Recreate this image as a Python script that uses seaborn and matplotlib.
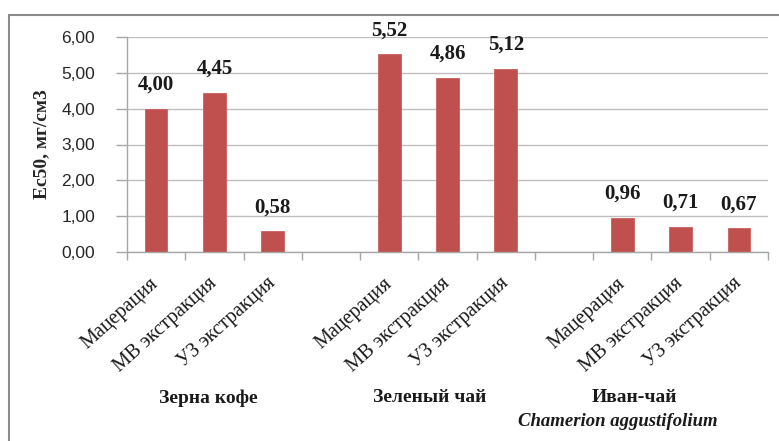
import matplotlib
matplotlib.use("Agg")
import matplotlib.pyplot as plt
import matplotlib.transforms as mtransforms
from matplotlib.patches import Rectangle
from matplotlib.ticker import FixedLocator, MultipleLocator
import seaborn as sns
import pandas as pd

# Source data: EC50 by raw material and extraction method
groups = ["Зерна кофе", "Зеленый чай", "Иван-чай"]
methods = ["Мацерация", "МВ экстракция", "УЗ экстракция"]
coffee = [4.00, 4.45, 0.58]
green_tea = [5.52, 4.86, 5.12]
ivan_tea = [0.96, 0.71, 0.67]
y_ticks = [0, 1, 2, 3, 4, 5, 6]
y_label = "Ec50, мг/см3"
latin_name = "Chamerion aggustifolium"

series = [coffee, green_tea, ivan_tea]

# Category order: three bars per group with an empty slot between groups
order = []
rows = []
for gi, (g, vals) in enumerate(zip(groups, series)):
    for m, v in zip(methods, vals):
        key = f"{g} | {m}"
        order.append(key)
        rows.append({"key": key, "group": g, "method": m, "ec50": v})
    if gi < len(groups) - 1:
        order.append(f"gap{gi}")
df = pd.DataFrame(rows)

sns.set_style("white")
plt.rcParams["font.family"] = ["Liberation Serif", "DejaVu Serif"]

fig = plt.figure(figsize=(7.79, 4.41), dpi=100)
ax = fig.add_axes([127 / 779, 1 - 252 / 441, (768 - 127) / 779, (252 - 37) / 441])

bar_color = "#C0504D"
sns.barplot(data=df, x="key", y="ec50", order=order, color=bar_color,
            width=0.39, saturation=1, ax=ax, edgecolor="#C9605C", linewidth=0.6)

ax.set_xlim(-0.5, len(order) - 0.5)
ax.set_ylim(0, 6)
ax.yaxis.set_major_locator(FixedLocator(y_ticks))
ax.set_yticklabels([f"{t:.2f}".replace(".", ",") for t in y_ticks],
                   family=["Liberation Sans", "DejaVu Sans"], fontsize=12.5, color="#262626")
ax.tick_params(axis="y", length=8, width=1, color="#A6A6A6", pad=15, left=True)

ax.grid(axis="y", color="#BFBFBF", linewidth=1)
ax.set_axisbelow(True)
for side in ("top", "right"):
    ax.spines[side].set_visible(False)
for side in ("left", "bottom"):
    ax.spines[side].set_color("#A6A6A6")
    ax.spines[side].set_linewidth(1)

# Tick marks at slot boundaries, labels at bar centres
ax.xaxis.set_minor_locator(MultipleLocator(1, offset=0.5))
ax.tick_params(axis="x", which="minor", length=6, width=1, color="#A6A6A6", bottom=True)
ax.tick_params(axis="x", which="major", length=0, pad=0)
positions = [i for i, k in enumerate(order) if not k.startswith("gap")]
labels = [k.split(" | ")[1] for k in order if not k.startswith("gap")]
ax.set_xticks(positions)
ax.set_xticklabels([])
offset = mtransforms.ScaledTranslation(0 / 100, -29 / 100, fig.dpi_scale_trans)
label_tr = mtransforms.blended_transform_factory(ax.transData, ax.transAxes) + offset
for p, lab in zip(positions, labels):
    ax.text(p, 0, lab, rotation=42, rotation_mode="anchor", ha="right", va="center",
            fontsize=14.5, color="#1a1a1a", transform=label_tr)

ax.set_xlabel("")
ax.set_ylabel(y_label, fontsize=14, fontweight="bold", labelpad=8)

# Value labels above bars
for p, v in zip(positions, df["ec50"]):
    ax.annotate(f"{v:.2f}".replace(".", ","), (p, v), xytext=(0, 10), textcoords="offset points",
                ha="center", va="bottom", fontsize=15, fontweight="bold", color="#1a1a1a")

# Group names below the axis
tr = mtransforms.blended_transform_factory(ax.transData, fig.transFigure)
group_x = [0.9, 4.7, 8.2]
for gx, g in zip(group_x, groups):
    fig.text(gx, 1 - 398 / 441, g, transform=tr, ha="center", va="center",
             fontsize=14, fontweight="bold", color="#1a1a1a")
fig.text(7.92, 1 - 421 / 441, latin_name, transform=tr, ha="center", va="center",
         fontsize=13.5, fontweight="bold", style="italic", color="#1a1a1a")

# Chart frame
fig.patches.append(Rectangle((9 / 779, -0.05), 1.1, 1 - 15 / 441 + 0.05,
                             transform=fig.transFigure, fill=False,
                             edgecolor="#8C8C8C", linewidth=1.5))

fig.savefig("out.png", dpi=100)
